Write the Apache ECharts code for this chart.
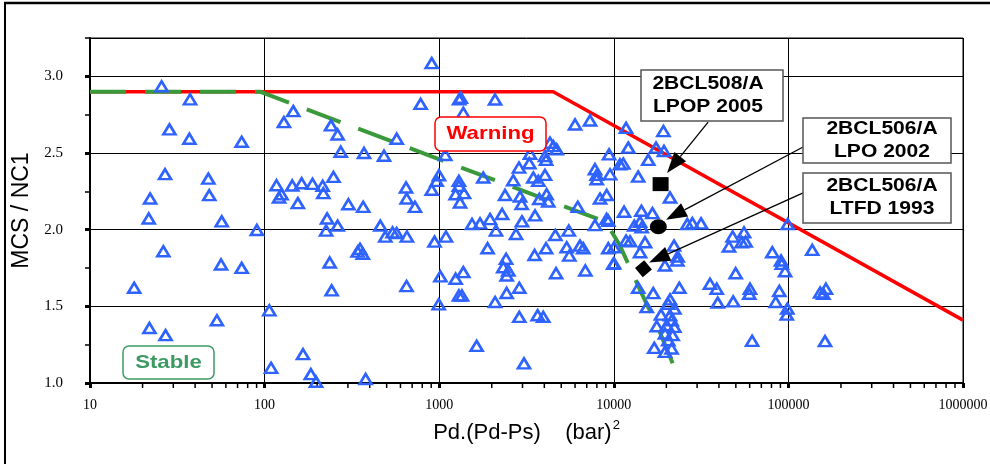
<!DOCTYPE html>
<html><head><meta charset="utf-8">
<script src="https://cdn.jsdelivr.net/npm/echarts@6/dist/echarts.min.js"></script>
<style>html,body{margin:0;padding:0;background:#fff}#c{width:990px;height:464px}</style>
</head><body><div id="c"></div>
<script>
// ---- data ----
const compressorPoints = [
[25.7,2.935],[37.4,2.85],[28.5,2.654],[37.1,2.593],[73.9,2.573],[26.9,2.362],[47.6,2.333],[48.2,2.225],[22.1,2.203],[21.7,2.073],[56.8,2.054],[90.3,1.998],[26.3,1.859],[56.3,1.773],[73.9,1.751],[17.9,1.621],[21.9,1.359],[53.3,1.409],[27.1,1.312],
[117,2.29],[121,2.21],[125,2.231],[106.4,1.474],[108.9,1.099],[906,3.086],[783,2.82],[146,2.773],[129,2.701],[240,2.68],[262,2.621],[571,2.593],[273,2.508],[371,2.5],[483,2.482],[967,2.318],[248,2.344],[144,2.288],[163,2.303],[188,2.299],[215,2.286],[217,2.238],[155,2.173],[302,2.166],[367,2.149],[646,2.275],[651,2.203],[726,2.149],[906,2.26],[228,2.073],[262,2.026],[225,1.994],[460,2.026],[491,1.955],[541,1.982],[570,1.978],[653,1.955],[940,1.922],[352,1.875],[341,1.857],[365,1.842],[236,1.786],[650,1.632],[242,1.604],[993,1.513],[166,1.188],[184,1.058],[197,1.008],[379,1.026],
[997,2.355],[1083,2.487],[1016,1.695],[1093,1.955],[1300,2.85],[1330,2.86],[2089,2.849],[1374,2.762],[5998,2.686],[7310,2.712],[4313,2.567],[4711,2.524],[4500,2.545],[3311,2.495],[4036,2.48],[4093,2.455],[9392,2.491],[2864,2.405],[3282,2.433],[2655,2.322],[1788,2.34],[3460,2.34],[4036,2.357],[3698,2.318],[1297,2.318],[1297,2.286],[1242,2.231],[1387,2.238],[1316,2.177],[2384,2.226],[2904,2.216],[2967,2.167],[3744,2.2],[4124,2.231],[4213,2.184],[6214,2.149],[7802,2.394],[7982,2.357],[7982,2.329],[9514,2.361],[8340,2.203],[9104,2.226],[1542,2.037],[1713,2.041],[1955,2.069],[2292,2.102],[3540,2.093],[2978,2.054],[2115,1.994],[2754,1.972],[4624,1.965],[5519,1.994],[7802,2.03],[9302,2.058],[9100,2.07],[1893,1.879],[4093,1.879],[5373,1.885],[5561,1.831],[6400,1.896],[6686,1.879],[9302,1.879],[3519,1.835],[2415,1.81],[2328,1.755],[2489,1.734],[2434,1.701],[1242,1.68],[1374,1.723],[4670,1.716],[6871,1.734],[9931,1.777],[2875,1.621],[2434,1.587],[1297,1.571],[1350,1.571],[2089,1.528],[2875,1.431],[3664,1.442],[3946,1.431],[1638,1.242],[3059,1.128],
[10840,2.426],[10030,1.885],[11750,2.664],[19230,2.643],[12100,2.535],[17450,2.535],[19380,2.513],[15750,2.455],[11330,2.431],[13790,2.346],[20990,2.21],[11450,2.117],[14390,2.123],[16640,2.108],[13110,2.026],[14130,2.052],[14450,2.015],[26360,2.037],[28170,2.043],[31600,2.041],[11750,1.929],[12390,1.924],[15100,1.918],[14130,1.853],[22130,1.896],[23220,1.825],[23100,1.799],[19630,1.766],[10030,1.781],[13790,1.621],[16820,1.586],[23730,1.621],[15430,1.495],[20990,1.545],[20510,1.517],[22220,1.485],[18630,1.446],[20990,1.442],[21430,1.409],[17620,1.37],[20090,1.377],[22220,1.366],[19630,1.323],[21730,1.312],[20510,1.279],[21430,1.225],[17050,1.229],[19630,1.203],[35560,1.647],[38840,1.615],[49890,1.716],[60260,1.615],[59710,1.582],[88700,1.6],[39370,1.524],[48300,1.532],[84600,1.528],[98600,1.485],[97800,1.446],[61960,1.275],[47930,1.955],[55700,1.982],[54000,1.918],[45660,1.89],[56900,1.922],[80880,1.853],[90800,1.799],[91600,1.777],[95700,1.729],[99100,2.037],[137000,1.868],[158500,1.582],[164000,1.615],[152000,1.59],[162000,1.273]
];
const warningLimit = [[10,2.9],[4500,2.9],[1000000,1.41]];
const stableLimit = [[10,2.9],[94,2.9],[9000,2.05],[10800,1.9],[14500,1.58],[18000,1.355],[23400,1.04]];
const case508LPOP2005 = [18540,2.297];
const case506LPO2002 = [17990,2.019];
const case506LTFD1993 = [14790,1.745];
const xMinorTickValues = [20,30,40,50,60,70,80,90,200,300,400,500,600,700,800,900,2000,3000,4000,5000,6000,7000,8000,9000,20000,30000,40000,50000,60000,70000,80000,90000,200000,300000,400000,500000,600000,700000,800000,900000];
const yMin = 1.0, yMax = 3.25;

// ---- chart ----
const chart = echarts.init(document.getElementById('c'), null, {renderer:'canvas'});
const serif = 'Liberation Serif', sans = 'Liberation Sans';

function boxText(x, y, w, h, lines, color, radius, fs, cx) {
  return {
    type:'group', x:x, y:y, z:100,
    children:[
      {type:'rect', shape:{x:0,y:0,width:w,height:h,r:radius}, style:{fill:'#fff', stroke:color, lineWidth:1.5}, z:100},
      {type:'text', x:cx, y:h/2, scaleX:1.17, z:101,
       style:{text:lines, fill:color==='#555'?'#000':color, font:'bold '+fs+'px "'+sans+'"', textAlign:'center', textVerticalAlign:'middle', lineHeight:fs+5}}
    ]
  };
}

chart.setOption({
  animation:false,
  backgroundColor:'#fff',
  grid:{left:90, right:27, top:38, bottom:81, show:true, borderColor:'#000', borderWidth:1, outerBoundsMode:'none'},
  xAxis:[{
    type:'log', logBase:10, min:10, max:1000000,
    axisLine:{lineStyle:{color:'#000', width:2}},
    axisTick:{length:5, lineStyle:{color:'#000', width:3}},
    axisLabel:{formatter:v=>String(Math.round(v)), fontFamily:serif, fontSize:14, color:'#000', margin:15},
    splitLine:{show:true, lineStyle:{color:'#000', width:1}},
    minorTick:{show:false}, minorSplitLine:{show:false},
    name:'Pd.(Pd-Ps)    (bar){sup|2}', nameLocation:'middle', nameGap:36,
    nameTextStyle:{fontFamily:sans, fontSize:22, color:'#000',
      rich:{sup:{fontFamily:sans, fontSize:13, color:'#000', verticalAlign:'top', padding:[0,0,14,1]}}}
  }],
  yAxis:[{
    type:'value', min:yMin, max:yMax, interval:0.5,
    axisLine:{show:true, lineStyle:{color:'#000', width:2}},
    axisTick:{show:true, length:5, lineStyle:{color:'#000', width:3}},
    axisLabel:{formatter:v=>v.toFixed(1), showMaxLabel:false, fontFamily:serif, fontSize:15, color:'#000', margin:27},
    splitLine:{show:true, lineStyle:{color:'#000', width:1}},
    name:'MCS / NC1', nameLocation:'middle', nameGap:46,
    nameTextStyle:{fontFamily:sans, fontSize:23, color:'#000'}
  },{
    type:'value', min:yMin, max:yMax, interval:0.25, position:'left',
    axisLine:{show:false}, axisLabel:{show:false}, splitLine:{show:false},
    axisTick:{show:true, length:5, lineStyle:{color:'#000', width:1.5}}
  }],
  series:[
    {type:'line', name:'Warning', data:warningLimit, symbol:'none', z:2,
     lineStyle:{color:'#ff0000', width:3.5, opacity:1}},
    {type:'line', name:'Stable', data:stableLimit, symbol:'none', z:3,
     lineStyle:{color:'#3a993a', width:4, type:[36,19], opacity:1}},
    {type:'scatter', name:'Compressors', data:compressorPoints, symbol:'triangle', symbolSize:[12,10], z:4,
     itemStyle:{color:'rgba(0,0,0,0)', borderColor:'#2f63ff', borderWidth:2.6, opacity:1}},
    {type:'scatter', name:'Cases', z:5,
     data:[
       {value:case508LPOP2005, symbol:'rect', symbolSize:[16,14]},
       {value:case506LPO2002, symbol:'circle', symbolSize:[17,15]},
       {value:case506LTFD1993, symbol:'rect', symbolSize:[12,12], symbolRotate:40}
     ],
     itemStyle:{color:'#000', opacity:1}},
    {type:'custom', name:'xMinorTicks', z:1, clip:false, silent:true,
     data:xMinorTickValues.map(v=>[v, yMin]),
     renderItem:(params, api)=>{
       const p = api.coord([api.value(0), api.value(1)]);
       return {type:'line', shape:{x1:p[0], y1:p[1], x2:p[0], y2:p[1]+5}, style:{stroke:'#000', lineWidth:1.5}};
     }}
  ]
});

// arrows from annotation boxes to the case markers (data coordinates)
const arrowDefs = [
  {from:[34690,2.701], to:[20180,2.37]},
  {from:[121400,2.539], to:[19900,2.065]},
  {from:[121400,2.24], to:[15920,1.786]}
];
const arrowGraphics = [];
arrowDefs.forEach(a=>{
  const p1 = chart.convertToPixel({xAxisIndex:0, yAxisIndex:0}, a.from);
  const p2 = chart.convertToPixel({xAxisIndex:0, yAxisIndex:0}, a.to);
  const dx = p2[0]-p1[0], dy = p2[1]-p1[1], L = Math.hypot(dx,dy);
  const ux = dx/L, uy = dy/L, hl = 21, hw = 7.5;
  const bx = p2[0]-ux*hl, by = p2[1]-uy*hl;
  arrowGraphics.push({type:'line', z:90, shape:{x1:p1[0], y1:p1[1], x2:bx, y2:by}, style:{stroke:'#000', lineWidth:1.3}});
  arrowGraphics.push({type:'polygon', z:90, shape:{points:[[p2[0],p2[1]],[bx-uy*hw, by+ux*hw],[bx+uy*hw, by-ux*hw]]}, style:{fill:'#000'}});
});

chart.setOption({
  graphic:[
    {type:'line', shape:{x1:4, y1:3, x2:990, y2:3}, style:{stroke:'#000', lineWidth:2.5}, z:100},
    {type:'line', shape:{x1:5, y1:3, x2:5, y2:464}, style:{stroke:'#000', lineWidth:2}, z:100},
    boxText(435, 117, 111, 34, 'Warning', '#ff0000', 6, 19, 55.5),
    boxText(123, 346, 91, 33, 'Stable', '#3d9a62', 6, 19, 45.5),
    boxText(641, 70, 142, 51, '2BCL508/A\nLPOP 2005', '#555', 0, 18, 67),
    boxText(803, 118, 148, 45, '2BCL506/A\nLPO 2002', '#555', 0, 18, 79),
    boxText(803, 173, 148, 50, '2BCL506/A\nLTFD 1993', '#555', 0, 18, 79)
  ].concat(arrowGraphics)
});
</script>
</body></html>
